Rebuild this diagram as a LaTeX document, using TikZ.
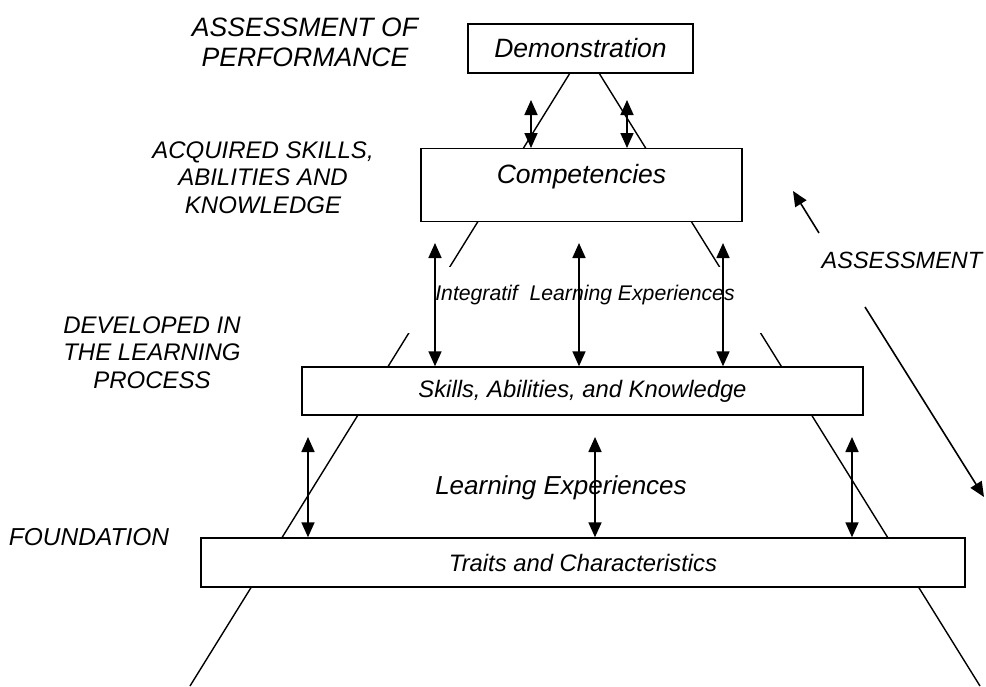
\documentclass[tikz,border=0pt]{standalone}
\usepackage{fontspec}
\setmainfont{Liberation Sans}
\usetikzlibrary{arrows.meta,calc}

\tikzset{
  tri/.tip={Triangle[length=15pt,width=13pt]},
  box/.style={draw, fill=white, line width=1.4pt, inner sep=0pt},
  lvl/.style={align=center, inner sep=0pt, font=\fontsize{24}{27.5}\selectfont\itshape},
  dbl/.style={line width=1.7pt, tri-tri},
}

\begin{document}
\begin{tikzpicture}[x=1pt,y=-1pt]
    \useasboundingbox (0,0) rectangle (986,686);

    % sides of the pyramid (the boxes hide parts of them)
    \coordinate (topL) at (570,73);
    \coordinate (topR) at (599,73);
    \coordinate (botL) at (190,686);
    \coordinate (botR) at (980,686);
    \draw[line width=1.4pt] (topL) -- (botL);
    \draw[line width=1.4pt] (topR) -- (botR);

    % levels
    \node[box, minimum width=225pt, minimum height=49pt, font=\fontsize{26.5}{30}\selectfont\itshape] (demo) at (580.5,48.5) {Demonstration};
    \node[box, anchor=north, minimum width=321pt, text height=34.5pt, text depth=38.5pt, font=\fontsize{26.5}{30}\selectfont\itshape] (comp) at (581.5,148) {Competencies};
    \node[box, minimum width=561pt, minimum height=48pt, font=\fontsize{23.8}{28}\selectfont\itshape] (skills) at (582.5,391) {Skills, Abilities, and Knowledge};
    \node[box, minimum width=764pt, minimum height=49pt, font=\fontsize{23.8}{28}\selectfont\itshape] (traits) at (583,562.5) {Traits and Characteristics};

    \node[fill=white, inner sep=0pt, anchor=base, minimum width=370pt, text height=33pt, text depth=33pt, font=\fontsize{21.2}{24}\selectfont\itshape] (integ) at (585,300) {Integratif\ \ Learning Experiences};
    \node[anchor=base, inner sep=0pt, font=\fontsize{26}{30}\selectfont\itshape] (learn) at (561,494.5) {Learning Experiences};

    % labels on the left
    \node[lvl, font=\fontsize{26.6}{30}\selectfont\itshape] (perf) at (305,42) {ASSESSMENT OF\\PERFORMANCE};
    \node[lvl] (acq) at (263,177.5) {ACQUIRED SKILLS,\\ABILITIES AND\\KNOWLEDGE};
    \node[lvl] (devel) at (152,352.5) {DEVELOPED IN\\THE LEARNING\\PROCESS};
    \node[lvl, font=\fontsize{24.5}{28}\selectfont\itshape] (found) at (89,537) {FOUNDATION};
    \node[lvl, font=\fontsize{23.5}{28}\selectfont\itshape] (assess) at (902,260) {ASSESSMENT};

    % double arrows between the levels
    \foreach \x in {531,627} {
      \coordinate (dc) at (\x,100);
      \draw[dbl] (dc) -- (dc |- comp.north);
    }
    \foreach \x in {435,579,723} {
      \coordinate (cs) at (\x,243);
      \draw[dbl] (cs) -- (cs |- skills.north);
    }
    \foreach \x in {308,595,852} {
      \coordinate (st) at (\x,437);
      \draw[dbl] (st) -- (st |- traits.north);
    }

    % assessment arrows
    \coordinate (upA) at (819,233);
    \coordinate (upB) at (793,191);
    \coordinate (dnA) at (865,307);
    \coordinate (dnB) at (984,497);
    \draw[line width=1.6pt, -tri] (upA) -- (upB);
    \draw[line width=1.6pt, -tri] (dnA) -- (dnB);
\end{tikzpicture}
\end{document}
